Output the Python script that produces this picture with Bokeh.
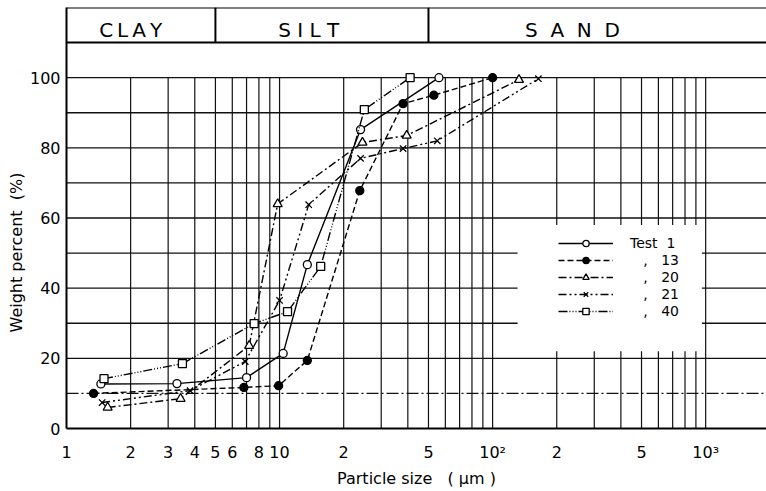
from bokeh.plotting import figure
from bokeh.models import FixedTicker, Legend, LegendItem, BoxAnnotation, Range1d, Title
from bokeh.core.properties import value
from bokeh.embed import file_html
from bokeh.resources import INLINE

# Cumulative grain-size curves: particle size (µm) vs weight percent finer
test1_size = [1.45, 3.3, 7.0, 10.4, 13.5, 24.0, 56.0]
test1_pct = [12.7, 12.8, 14.5, 21.4, 46.7, 85.2, 100.0]

test13_size = [1.34, 6.8, 9.9, 13.5, 23.8, 38.0, 53.0, 100.0]
test13_pct = [10.0, 11.7, 12.2, 19.4, 67.8, 92.6, 95.0, 100.0]

test20_size = [1.56, 3.43, 7.2, 9.8, 24.5, 39.5, 133.0]
test20_pct = [6.0, 8.5, 23.6, 64.0, 81.5, 83.5, 99.4]

test21_size = [1.47, 3.8, 6.9, 10.0, 13.7, 24.0, 38.0, 55.0, 164.0]
test21_pct = [7.4, 10.8, 19.1, 36.5, 63.8, 77.0, 79.8, 82.0, 99.7]

test40_size = [1.5, 3.5, 7.6, 10.9, 15.6, 25.0, 41.0]
test40_pct = [14.2, 18.5, 29.9, 33.3, 46.2, 90.9, 100.0]

NB = "\u00a0"
legend_labels = ["Test" + NB * 2 + "1",
                 NB * 3 + "," + NB * 3 + "13",
                 NB * 3 + "," + NB * 3 + "20",
                 NB * 3 + "," + NB * 3 + "21",
                 NB * 3 + "," + NB * 3 + "40"]

# Soil classes along the top band
zone_names = ["C\u2009L\u2009A\u2009Y", "S" + NB + "I" + NB + "L" + NB + "T",
              "S" + NB * 2 + "A" + NB * 2 + "N" + NB * 2 + "D"]
zone_bounds = [1, 5, 50, 1930]
zone_label_x = [2.0, 13.7, 237.0]

# Axis ticks
x_ticks = [1, 2, 3, 4, 5, 6, 8, 10, 20, 50, 100, 200, 500, 1000]
x_tick_labels = ["1", "2", "3", "4", "5", "6", "8", "10", "2", "5", "10²", "2", "5", "10³"]
y_ticks = [0, 20, 40, 60, 80, 100]

FONT = "DejaVu Sans"
X_MAX = zone_bounds[-1]

p = figure(width=766, height=491, x_axis_type="log",
           x_range=Range1d(1, X_MAX), y_range=Range1d(0, 120),
           output_backend="svg", toolbar_location=None,
           min_border_left=66, min_border_right=0, min_border_top=7, min_border_bottom=63)
p.outline_line_color = None
p.xgrid.visible = False
p.ygrid.visible = False
p.background_fill_color = "white"

# Log-paper grid: verticals at 1..9 x 10^k up to 100 %, horizontals every 10 %
v_lines = [m * 10 ** k for k in range(4) for m in range(1, 10) if 1 < m * 10 ** k <= 1000]
p.segment(x0=v_lines, y0=0, x1=v_lines, y1=100, line_color="#111111", line_width=1.2)
h_lines = list(range(20, 101, 10))
p.segment(x0=[1] * len(h_lines), y0=h_lines, x1=[X_MAX] * len(h_lines), y1=h_lines,
          line_color="#111111", line_width=1.4)
p.segment(x0=[1], y0=[10], x1=[X_MAX], y1=[10], line_color="#111111", line_width=1.4,
          line_dash="12 3 2 3")

# Header band with class names
p.segment(x0=[1, 1], y0=[110, 120], x1=[X_MAX, X_MAX], y1=[110, 120],
          line_color="black", line_width=2)
p.segment(x0=zone_bounds[1:3], y0=[110, 110], x1=zone_bounds[1:3], y1=[120, 120],
          line_color="black", line_width=2)
p.text(x=zone_label_x, y=[113.6] * 3, text=zone_names, text_align="center",
       text_baseline="middle", text_font=value(FONT), text_font_size="20px",
       text_color="black")

# White area behind the legend
p.add_layout(BoxAnnotation(left=131, right=960, bottom=22, top=58,
                           fill_color="white", fill_alpha=1.0, line_color=None))

series = [
    (test1_size, test1_pct, "solid", "circle", "white", 8),
    (test13_size, test13_pct, "6 3", "circle", "black", 8),
    (test20_size, test20_pct, "8 3 2 3", "triangle", "white", 9),
    (test21_size, test21_pct, "8 3 2 3 2 3", "x", "black", 9),
    (test40_size, test40_pct, "9 2 1 2 1 2 1 2", "square", "white", 8),
]

items = []
for (xs, ys, dash, marker, fill, size), label in zip(series, legend_labels):
    ln = p.line(xs, ys, line_color="black", line_width=1.4, line_dash=dash)
    sc = p.scatter(xs, ys, marker=marker, size=size, line_color="black",
                   line_width=1.3, fill_color=fill)
    items.append(LegendItem(label=label, renderers=[ln, sc]))

legend = Legend(items=items, location=(492, 109), background_fill_alpha=0,
                border_line_color=None, glyph_width=55, glyph_height=16, label_height=16,
                label_standoff=17, spacing=1, padding=6, margin=0,
                label_text_font=FONT, label_text_font_size="14px", label_text_color="black")
p.add_layout(legend, "center")

# Axes
p.yaxis.ticker = FixedTicker(ticks=y_ticks)
p.xaxis.ticker = FixedTicker(ticks=x_ticks)
p.xaxis.major_label_overrides = dict(zip(x_ticks, x_tick_labels))
for ax in (p.xaxis, p.yaxis):
    ax.major_tick_line_color = None
    ax.minor_tick_line_color = None
    ax.major_tick_out = 0
    ax.major_tick_in = 0
    ax.minor_tick_out = 0
    ax.minor_tick_in = 0
    ax.axis_line_color = "black"
    ax.axis_line_width = 2
    ax.major_label_text_font = FONT
    ax.major_label_text_font_size = "16px"
    ax.major_label_text_color = "black"
p.yaxis.major_label_standoff = 6
p.xaxis.major_label_standoff = 14

p.xaxis.axis_label = "Particle size" + NB * 3 + "(" + NB + "μm" + NB + ")"
p.xaxis.axis_label_text_font = FONT
p.xaxis.axis_label_text_font_size = "16px"
p.xaxis.axis_label_text_font_style = "normal"
p.xaxis.axis_label_text_color = "black"
p.xaxis.axis_label_standoff = 4

# Vertical title placed over the 0-100 % part of the frame
p.add_layout(Title(text="Weight percent" + NB * 2 + "(%)", align="left", offset=96,
                   standoff=2, text_font=FONT, text_font_size="16px",
                   text_font_style="normal", text_color="black"), "left")

open("out.html", "w").write(file_html(p, INLINE))
